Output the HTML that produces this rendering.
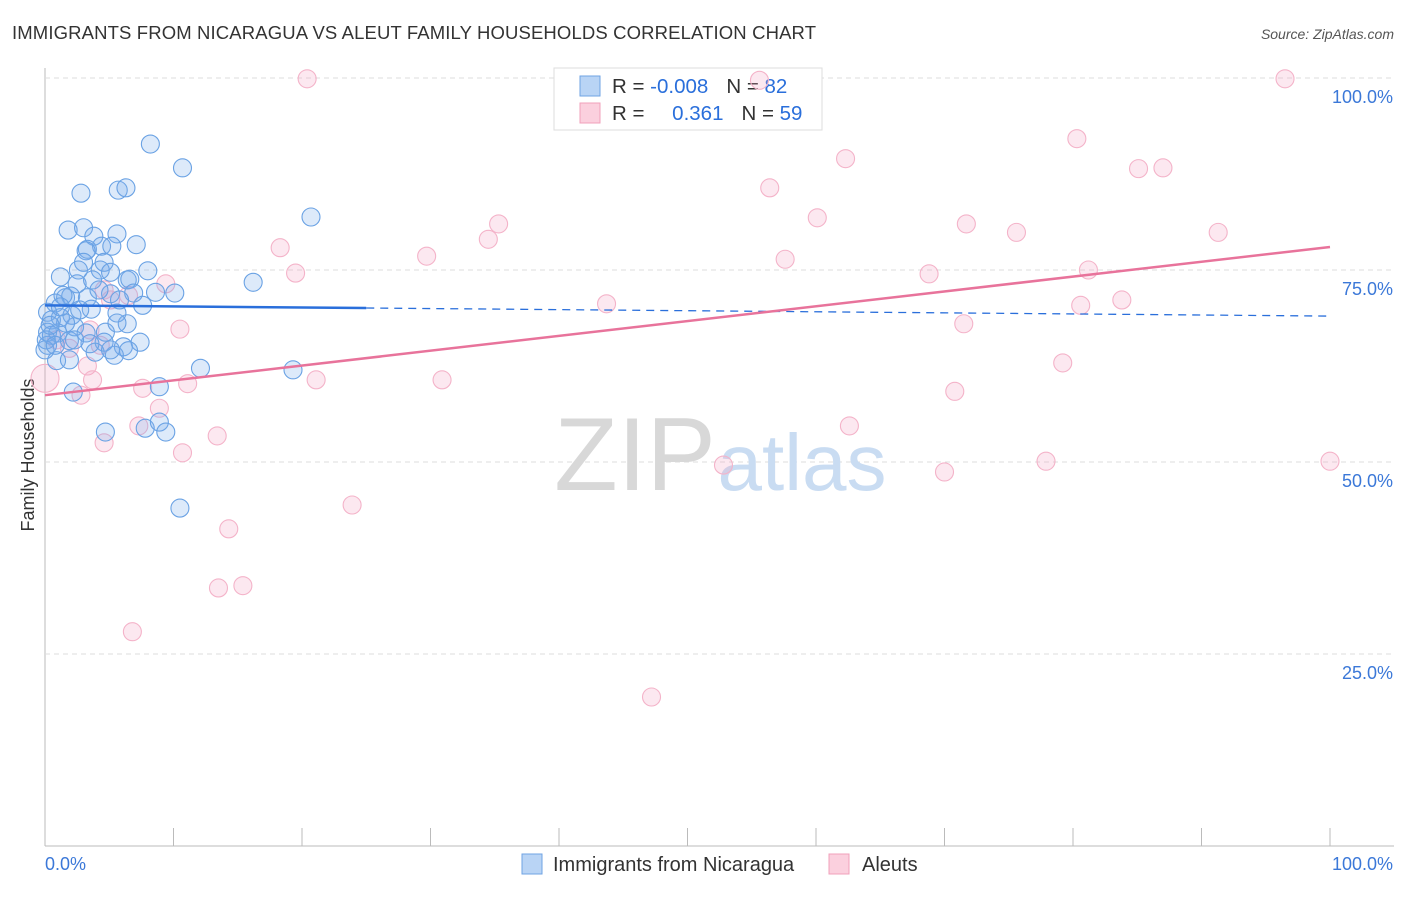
<!DOCTYPE html>
<html><head><meta charset="utf-8"><style>
body{margin:0;background:#fff;font-family:"Liberation Sans",sans-serif;}
svg text{font-family:"Liberation Sans",sans-serif;}
</style></head><body>
<svg id="chart" width="1406" height="892" viewBox="0 0 1406 892">
<text x="12" y="39" font-size="18.5" fill="#333" textLength="804">IMMIGRANTS FROM NICARAGUA VS ALEUT FAMILY HOUSEHOLDS CORRELATION CHART</text>
<text x="1394" y="39" font-size="14" fill="#555" font-style="italic" text-anchor="end">Source: ZipAtlas.com</text>
<g id="grid"></g>
<g>
<text x="635" y="490" font-size="104" fill="#d8d8d8" font-family="Liberation Serif" text-anchor="middle">ZIP</text>
<text x="802" y="490" font-size="80" fill="#c9dcf2" text-anchor="middle">atlas</text></g>
<text transform="translate(34,455) rotate(-90)" font-size="18" fill="#333" text-anchor="middle">Family Households</text>
<g>
<rect x="554" y="68" width="268" height="62" fill="#fff" stroke="#ddd"/>
<rect x="580" y="76" width="20" height="20" fill="#b9d4f5" stroke="#6fa3e3"/>
<rect x="580" y="103" width="20" height="20" fill="#fbd0de" stroke="#f0a0bb"/>
<text x="612" y="93" font-size="20.5" fill="#333">R = <tspan fill="#2a6fdb">-0.008</tspan><tspan dx="18">N = </tspan><tspan fill="#2a6fdb">82</tspan></text>
<text x="612" y="120" font-size="20.5" fill="#333">R = <tspan fill="#2a6fdb" dx="22">0.361</tspan><tspan dx="18">N = </tspan><tspan fill="#2a6fdb">59</tspan></text>
</g>
<g id="pts"></g>
<g id="trend"></g>
<g>
<rect x="522" y="854" width="20" height="20" fill="#b9d4f5" stroke="#6fa3e3"/>
<text x="553" y="871" font-size="20" fill="#333">Immigrants from Nicaragua</text>
<rect x="829" y="854" width="20" height="20" fill="#fbd0de" stroke="#f0a0bb"/>
<text x="862" y="871" font-size="20" fill="#333">Aleuts</text>
</g>
</svg>
<script>
const yTicks=[25,50,75,100];
const yTickLabels=["25.0%","50.0%","75.0%","100.0%"];
const xTickCount=10;
const blueX=[8.2,10.7,2.8,5.7,6.3,20.7,1.8,3.0,3.8,5.6,7.1,3.3,4.4,3.2,5.2,3.0,4.6,2.6,4.3,5.1,8.0,1.2,2.5,3.7,6.4,6.6,16.2,10.1,6.9,5.1,1.6,2.0,3.3,0.8,7.6,3.6,0.2,2.1,5.6,1.2,0.5,2.3,1.6,4.7,6.4,5.6,0.2,0.5,3.2,1.0,4.6,7.4,6.1,3.9,5.4,6.5,0.2,0.1,0.9,1.9,12.1,19.3,2.2,8.9,4.7,7.8,8.9,9.4,10.5,1.4,2.7,0.4,1.9,3.5,5.8,0.0,0.8,1.2,4.2,8.6,5.1,2.3];
const blueY=[91.4,88.3,85.0,85.4,85.7,81.9,80.2,80.5,79.4,79.7,78.3,77.7,78.1,77.5,78.1,76.0,76.0,75.0,75.0,74.7,74.9,74.1,73.2,73.7,73.7,73.8,73.4,72.0,72.0,71.9,71.4,71.6,71.4,70.7,70.4,69.9,69.5,69.1,69.4,68.8,68.5,67.6,68.1,66.9,68.0,68.1,66.9,66.5,66.8,66.8,65.6,65.6,65.0,64.3,63.9,64.5,65.2,65.9,63.2,63.3,62.2,62.0,59.1,59.8,53.9,54.4,55.2,53.9,44.0,71.7,69.8,67.8,65.8,65.4,71.1,64.6,65.2,70.2,72.4,72.1,64.6,65.9];
const pinkX=[20.4,55.6,96.5,80.3,62.3,85.1,87.0,56.4,60.1,71.7,75.6,91.3,35.3,34.5,18.3,29.7,57.6,19.5,68.8,81.2,9.4,6.5,4.6,43.7,80.6,83.8,71.5,10.5,0.9,1.9,4.3,79.2,3.3,3.7,21.1,30.9,11.1,7.6,70.8,0.0,2.8,8.9,7.3,13.4,62.6,4.6,10.7,52.8,77.9,70.0,100,23.9,14.3,13.5,15.4,6.8,47.2,5.1,3.5];
const pinkY=[99.9,99.7,99.9,92.1,89.5,88.2,88.3,85.7,81.8,81.0,79.9,79.9,81.0,79.0,77.9,76.8,76.4,74.6,74.5,75.0,73.2,71.7,72.4,70.6,70.4,71.1,68.0,67.3,65.9,64.8,65.2,62.9,62.5,60.7,60.7,60.7,60.2,59.6,59.2,60.9,58.7,57.0,54.7,53.4,54.7,52.5,51.2,49.6,50.1,48.7,50.1,44.4,41.3,33.6,33.9,27.9,19.4,71.1,67.2];
const blueTrend=[70.4,69.0];
const blueSolidEnd=25;
const pinkTrend=[58.7,78.0];
const NS="http://www.w3.org/2000/svg";
const X0=45,X1=1330,Y0=846,Y100=78;
const sx=v=>X0+(X1-X0)*v/100;
const sy=v=>Y0-(Y0-Y100)*v/100;
function mk(tag,attrs,parent){const e=document.createElementNS(NS,tag);for(const k in attrs)e.setAttribute(k,attrs[k]);parent.appendChild(e);return e;}
const grid=document.getElementById('grid');
let l=mk('line',{x1:X0,y1:68,x2:X0,y2:Y0,stroke:'#bbb'},grid);


l=mk('line',{x1:X0,y1:Y0,x2:1394,y2:Y0,stroke:'#bbb'},grid);


yTicks.forEach((t,i)=>{
 const g=mk('line',{x1:X0,y1:sy(t),x2:1394,y2:sy(t),stroke:'#ddd','stroke-dasharray':'5,4'},grid);
 
 
 const tx=mk('text',{x:1393,y:sy(t)+25,'font-size':18,fill:'#3b78d8','text-anchor':'end'},grid);
 tx.textContent=yTickLabels[i];
 
 
});
for(let i=0;i<=xTickCount;i++){
 const v=i*100/xTickCount;
 const t=mk('line',{x1:sx(v),y1:828,x2:sx(v),y2:Y0,stroke:'#bbb'},grid);
 
 
}
let xl=mk('text',{x:45,y:870,'font-size':18,fill:'#3b78d8'},grid);xl.textContent='0.0%';


xl=mk('text',{x:1393,y:870,'font-size':18,fill:'#3b78d8','text-anchor':'end'},grid);xl.textContent='100.0%';


const pts=document.getElementById('pts');
pinkX.forEach((x,i)=>{
 const c=mk('circle',{cx:sx(x),cy:sy(pinkY[i]),r:(x===0?14:9),fill:'rgba(245,165,195,0.25)',stroke:'#f4b3c9','stroke-width':1.1},pts);
 
 
});
blueX.forEach((x,i)=>{
 const c=mk('circle',{cx:sx(x),cy:sy(blueY[i]),r:9,fill:'rgba(120,170,235,0.25)',stroke:'#6aa2e4','stroke-width':1.1},pts);
 
 
});
const tr=document.getElementById('trend');
const by=v=>blueTrend[0]+(blueTrend[1]-blueTrend[0])*v/100;
let t=mk('line',{x1:sx(0),y1:sy(by(0)),x2:sx(blueSolidEnd),y2:sy(by(blueSolidEnd)),stroke:'#2a6fdb','stroke-width':2.5},tr);


t=mk('line',{x1:sx(blueSolidEnd),y1:sy(by(blueSolidEnd)),x2:sx(100),y2:sy(by(100)),stroke:'#2a6fdb','stroke-width':1.3,'stroke-dasharray':'8,6'},tr);


t=mk('line',{x1:sx(0),y1:sy(pinkTrend[0]),x2:sx(100),y2:sy(pinkTrend[1]),stroke:'#e8739b','stroke-width':2.5},tr);


</script>
</body></html>
